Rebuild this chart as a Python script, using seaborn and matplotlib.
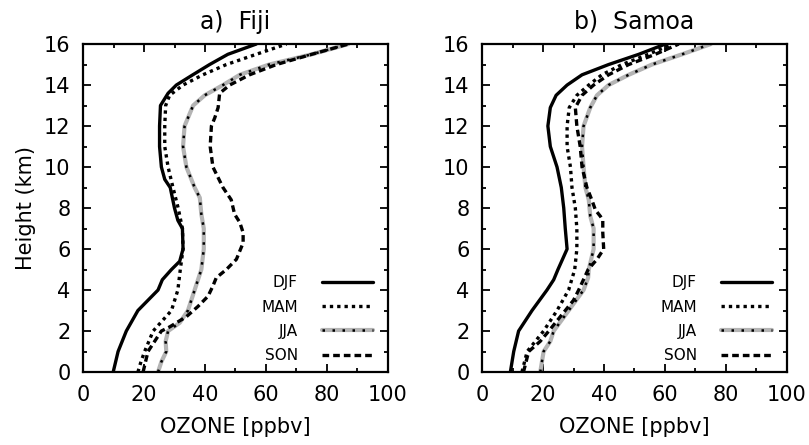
import numpy as np
import pandas as pd
import matplotlib
matplotlib.use("Agg")
import matplotlib.pyplot as plt
from matplotlib.lines import Line2D
from matplotlib.ticker import MultipleLocator
import seaborn as sns

# ozone profiles: height [km] and ozone [ppbv]
fiji_djf_h = [0, 1, 2, 3, 3.5, 4, 4.5, 5, 5.4, 6, 7, 7.4, 8, 9, 9.4, 10, 11, 12, 13, 13.6, 14, 14.5, 15, 15.5, 16]
fiji_djf = [9.9, 11.5, 14.2, 18, 21.3, 24.6, 26, 29, 31.7, 32.8, 32.6, 31.1, 30, 28.6, 26.8, 25.7, 25.1, 25.1, 25.4, 27.9, 30.6, 36, 41.5, 47.5, 56.8]

fiji_mam_h = [0, 0.5, 1, 2, 3, 4, 5, 6, 7, 8, 9, 10, 11, 12, 13, 13.5, 14, 14.5, 15, 15.5, 16]
fiji_mam = [18, 19, 20.2, 23, 29, 31.1, 31.9, 32.8, 32.6, 31.2, 29.5, 27.9, 26.8, 26.8, 27.1, 28.4, 32.8, 39.3, 47, 56.8, 66.7]

fiji_jja_h = [0, 0.5, 1, 1.5, 2, 2.4, 3, 4, 5, 6, 7, 7.7, 8.5, 9, 10, 11, 12, 13, 13.5, 14, 14.5, 15, 15.5, 16]
fiji_jja = [24.6, 25.7, 27.3, 27.1, 27.9, 31.7, 34.4, 36.6, 38.8, 39.6, 39.6, 38.8, 38.3, 36.6, 33.9, 32.8, 33.3, 36.1, 39.9, 45.9, 51.4, 61, 75, 87]

fiji_son_h = [0, 0.5, 1, 1.5, 2, 2.2, 2.7, 3.2, 3.7, 4.2, 4.6, 5, 5.5, 6.3, 6.8, 7.3, 7.7, 8.4, 9, 10, 11, 12, 12.4, 12.9, 13.6, 14, 14.5, 15, 15.5, 16]
fiji_son = [19.7, 20.5, 21.3, 23.5, 25.7, 28.4, 33.9, 37.7, 41, 42.6, 43.7, 47, 50.3, 52.5, 52.5, 51.4, 49.7, 48.6, 45.9, 42.6, 41.7, 42.1, 43.2, 44.3, 44.8, 48.1, 54.6, 63.4, 75, 87]

samoa_djf_h = [0, 1, 2, 3, 4, 4.5, 5, 6, 7, 8, 9, 10, 11, 12, 12.9, 13.5, 14, 14.5, 15, 15.5, 16]
samoa_djf = [9.3, 10.4, 12, 16.4, 21.3, 23.5, 24.9, 27.9, 27.3, 26.8, 26, 24.6, 22.4, 21.6, 22.4, 24.3, 27.9, 32.8, 41.5, 51.4, 60.1]

samoa_mam_h = [0, 1, 1.5, 2, 3, 4, 5, 6, 7, 8, 9, 10, 11, 12, 12.9, 13.5, 14, 14.5, 15, 15.5, 16]
samoa_mam = [13.1, 14.8, 17.5, 20.2, 24.6, 28.4, 30.4, 31.1, 31.1, 30.6, 29.5, 29, 27.9, 27.9, 28.6, 31.1, 35, 39.3, 45.9, 54.6, 62.3]

samoa_jja_h = [0, 1, 1.5, 2, 3, 4, 4.6, 5, 6, 7, 7.6, 8.4, 9, 10, 11, 12, 12.9, 13.5, 14, 14.5, 15, 15.5, 16]
samoa_jja = [19.1, 20.2, 22.4, 23.5, 28.4, 33.3, 34.8, 35, 36.6, 36.6, 35.5, 35, 33.9, 33.3, 32.8, 33.3, 35.5, 37.7, 41.5, 48.1, 55.7, 65.6, 75]

samoa_son_h = [0, 1, 1.5, 2, 3, 3.5, 4, 5, 5.5, 6, 6.8, 7.4, 7.6, 7.9, 8.4, 9, 10, 11, 12, 12.9, 13.5, 14, 14.5, 15, 15.5, 16]
samoa_son = [13.6, 15.3, 19.1, 21.9, 27.3, 30, 31.7, 34.8, 37.7, 39.9, 39.6, 39.6, 38.8, 37.2, 36, 34.4, 32.8, 32.2, 31.1, 30.6, 32.8, 36.6, 41.5, 48.1, 56.8, 64.5]

seasons = ["DJF", "MAM", "JJA", "SON"]
panels = {
    "a)  Fiji": [(fiji_djf_h, fiji_djf), (fiji_mam_h, fiji_mam), (fiji_jja_h, fiji_jja), (fiji_son_h, fiji_son)],
    "b)  Samoa": [(samoa_djf_h, samoa_djf), (samoa_mam_h, samoa_mam), (samoa_jja_h, samoa_jja), (samoa_son_h, samoa_son)],
}

sns.set_style("ticks")
plt.rcParams['font.family'] = ['DejaVu Sans']
plt.rcParams['text.color'] = 'black'
plt.rcParams['axes.labelcolor'] = 'black'
plt.rcParams['xtick.color'] = 'black'
plt.rcParams['ytick.color'] = 'black'

LW = 2.4
dotted = (0, (1, 1.2))
dashed = (0, (2, 1.2))
jja_gray = "#b4b4b4"

fig = plt.figure(figsize=(8.09, 4.45), dpi=100)
ax_pos = [[0.1026, 0.164, 0.377, 0.737], [0.5958, 0.164, 0.377, 0.737]]

for k, (title, series) in enumerate(panels.items()):
    ax = fig.add_axes(ax_pos[k])
    for s, (h, oz) in zip(seasons, series):
        df = pd.DataFrame({"height": h, "ozone": oz})
        if s == "DJF":
            sns.lineplot(data=df, x="ozone", y="height", sort=False, estimator=None,
                         color="black", lw=LW, ax=ax)
        elif s == "MAM":
            sns.lineplot(data=df, x="ozone", y="height", sort=False, estimator=None,
                         color="black", lw=LW, linestyle=dotted, ax=ax)
        elif s == "JJA":
            sns.lineplot(data=df, x="ozone", y="height", sort=False, estimator=None,
                         color=jja_gray, lw=LW + 0.6, ax=ax)
            sns.lineplot(data=df, x="ozone", y="height", sort=False, estimator=None,
                         color="black", lw=1.8, linestyle=(0, (1, 3)), ax=ax)
        else:
            sns.lineplot(data=df, x="ozone", y="height", sort=False, estimator=None,
                         color="black", lw=LW, linestyle=dashed, ax=ax)

    ax.set_xlim(0, 100)
    ax.set_ylim(0, 16)
    ax.xaxis.set_major_locator(MultipleLocator(20))
    ax.xaxis.set_minor_locator(MultipleLocator(10))
    ax.yaxis.set_major_locator(MultipleLocator(2))
    ax.yaxis.set_minor_locator(MultipleLocator(1))
    ax.tick_params(which="both", direction="in", top=True, right=True, width=1.3,
                   labelsize=15)
    ax.tick_params(which="major", length=6, pad=9)
    ax.tick_params(which="minor", length=3)
    for sp in ax.spines.values():
        sp.set_linewidth(1.6)
        sp.set_color("black")
    ax.set_title(title, fontsize=17, pad=11)
    ax.set_xlabel("OZONE [ppbv]", fontsize=15, labelpad=9)
    if k == 0:
        ax.set_ylabel("Height (km)", fontsize=15, labelpad=6)
    else:
        ax.set_ylabel("")

    handles = [
        Line2D([], [], color="black", lw=LW),
        Line2D([], [], color="black", lw=LW, linestyle=dotted),
        (Line2D([], [], color=jja_gray, lw=LW + 0.6),
         Line2D([], [], color="black", lw=1.8, linestyle=(0, (1, 3)))),
        Line2D([], [], color="black", lw=LW, linestyle=dashed),
    ]
    ax.legend(handles, seasons, loc="lower right", frameon=False, markerfirst=False,
              fontsize=11, handlelength=3.3, labelspacing=0.6, handletextpad=1.6,
              borderaxespad=0.3, bbox_to_anchor=(0.985, -0.005))

fig.savefig("out.png", dpi=100)
